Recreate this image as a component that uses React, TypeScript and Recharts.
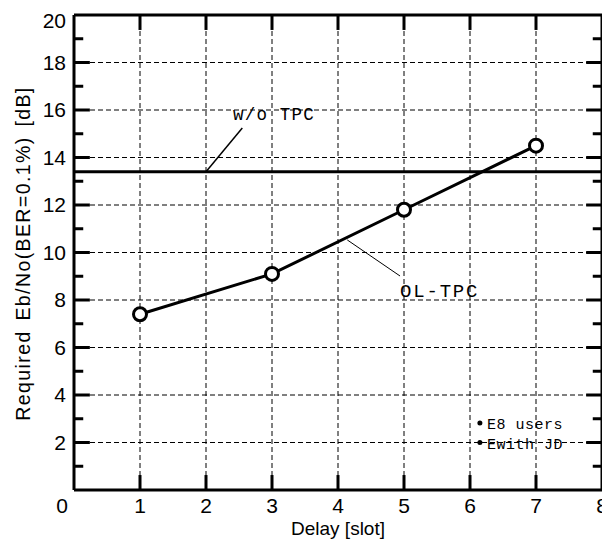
import React from 'react';
import { LineChart, Line, XAxis, YAxis, CartesianGrid, ReferenceLine, ReferenceDot } from 'recharts';

const delays = [1, 3, 5, 7];
const olTpcValues = [7.4, 9.1, 11.8, 14.5];
const woTpcValue = 13.4;
const xTicks = [0, 1, 2, 3, 4, 5, 6, 7, 8];
const yTicks = [0, 2, 4, 6, 8, 10, 12, 14, 16, 18, 20];
const yMinorTicks = [1, 3, 5, 7, 9, 11, 13, 15, 17, 19];
const xInnerTicks = [1, 2, 3, 4, 5, 6, 7];
const yInnerTicks = [2, 4, 6, 8, 10, 12, 14, 16, 18];

const data = delays.map((d, i) => ({ delay: d, ol: olTpcValues[i] }));

const MONO = '"Liberation Mono", "Courier New", monospace';
const SANS = '"Liberation Sans", Arial, sans-serif';

const XLabel = (props: any) => {
  const vb = props.viewBox;
  return (
    <text x={vb.x + vb.width / 2} y={vb.y + 45} textAnchor="middle" fontSize={19} fontFamily={SANS} fill="#000">
      Delay [slot]
    </text>
  );
};

const YLabel = (props: any) => {
  const vb = props.viewBox;
  const x = vb.x + 16;
  const y = vb.y + vb.height / 2 + 1;
  return (
    <text
      x={x}
      y={y}
      textAnchor="middle"
      fontSize={19.5}
      fontFamily={SANS}
      fill="#000"
      letterSpacing={1.4}
      wordSpacing={3}
      transform={`rotate(-90, ${x}, ${y})`}
    >
      Required Eb/No(BER=0.1%) [dB]
    </text>
  );
};

const XTick = (props: any) => {
  const { x, y, payload } = props;
  const v = payload.value;
  return (
    <text x={v === 0 ? x - 12 : x} y={y} dy="0.71em" textAnchor="middle" fontSize={21} fontFamily={SANS} fill="#000">
      {v}
    </text>
  );
};

export default function App() {
  return (
    <LineChart width={602} height={543} data={data} margin={{ top: 7, right: 8, left: 6, bottom: 21 }}>
      <CartesianGrid stroke="#000" strokeDasharray="5 3" strokeWidth={1} />
      <XAxis
        dataKey="delay"
        type="number"
        domain={[0, 8]}
        ticks={xTicks}
        axisLine={false}
        tickLine={false}
        height={40}
        tick={<XTick />}
        label={<XLabel />}
      />
      <YAxis
        type="number"
        domain={[0, 20]}
        ticks={yTicks}
        axisLine={false}
        tickLine={false}
        width={60}
        tickFormatter={(v: number) => (v === 0 ? '' : String(v))}
        tick={{ fontSize: 21, fill: '#000', fontFamily: SANS }}
        label={<YLabel />}
      />
      {/* frame */}
      <ReferenceLine x={0} stroke="#000" strokeWidth={3} />
      <ReferenceLine x={8} stroke="#000" strokeWidth={3} />
      <ReferenceLine y={0} stroke="#000" strokeWidth={3} />
      <ReferenceLine y={20} stroke="#000" strokeWidth={3} />
      {/* inward ticks */}
      {xInnerTicks.map((v) => (
        <ReferenceLine key={'xb' + v} segment={[{ x: v, y: 0 }, { x: v, y: 0.63 }]} stroke="#000" strokeWidth={3} />
      ))}
      {xInnerTicks.map((v) => (
        <ReferenceLine key={'xt' + v} segment={[{ x: v, y: 20 }, { x: v, y: 19.37 }]} stroke="#000" strokeWidth={3} />
      ))}
      {yInnerTicks.map((v) => (
        <ReferenceLine key={'yl' + v} segment={[{ x: 0, y: v }, { x: 0.24, y: v }]} stroke="#000" strokeWidth={3} />
      ))}
      {yInnerTicks.map((v) => (
        <ReferenceLine key={'yr' + v} segment={[{ x: 8, y: v }, { x: 7.76, y: v }]} stroke="#000" strokeWidth={3} />
      ))}
      {yMinorTicks.map((v) => (
        <ReferenceLine key={'yml' + v} segment={[{ x: 0, y: v }, { x: 0.14, y: v }]} stroke="#000" strokeWidth={3} />
      ))}
      {yMinorTicks.map((v) => (
        <ReferenceLine key={'ymr' + v} segment={[{ x: 8, y: v }, { x: 7.86, y: v }]} stroke="#000" strokeWidth={3} />
      ))}
      {/* w/o TPC */}
      <ReferenceLine y={woTpcValue} stroke="#000" strokeWidth={3} />
      <ReferenceLine segment={[{ x: 2.0, y: woTpcValue }, { x: 2.55, y: 15.24 }]} stroke="#000" strokeWidth={1.5} />
      <ReferenceLine segment={[{ x: 4.14, y: 10.53 }, { x: 4.94, y: 9.01 }]} stroke="#000" strokeWidth={1} />
      <Line
        dataKey="ol"
        stroke="#000"
        strokeWidth={3}
        dot={{ r: 6.5, fill: '#fff', stroke: '#000', strokeWidth: 3 }}
        isAnimationActive={false}
      />
      <ReferenceDot
        x={2.41}
        y={15.58}
        r={0}
        shape={(p: any) => (
          <text x={p.cx} y={p.cy} fontSize={17.5} fontFamily={MONO} letterSpacing={1.2} fill="#000">
            w/o TPC
          </text>
        )}
      />
      <ReferenceDot
        x={4.94}
        y={8.13}
        r={0}
        shape={(p: any) => (
          <text x={p.cx} y={p.cy} fontSize={19} fontFamily={MONO} letterSpacing={1.8} fill="#000">
            OL-TPC
          </text>
        )}
      />
      <ReferenceDot
        x={6.15}
        y={2.82}
        r={0}
        shape={(p: any) => (
          <g>
            <circle cx={p.cx} cy={p.cy} r={2.5} fill="#000" />
            <text x={p.cx + 7} y={p.cy + 6} fontSize={15} fontFamily={MONO} letterSpacing={0.5} fill="#000">
              E8 users
            </text>
          </g>
        )}
      />
      <ReferenceDot
        x={6.15}
        y={2.0}
        r={0}
        shape={(p: any) => (
          <g>
            <circle cx={p.cx} cy={p.cy} r={2.5} fill="#000" />
            <text x={p.cx + 7} y={p.cy + 6} fontSize={15} fontFamily={MONO} letterSpacing={0.5} fill="#000">
              Ewith JD
            </text>
          </g>
        )}
      />
    </LineChart>
  );
}
